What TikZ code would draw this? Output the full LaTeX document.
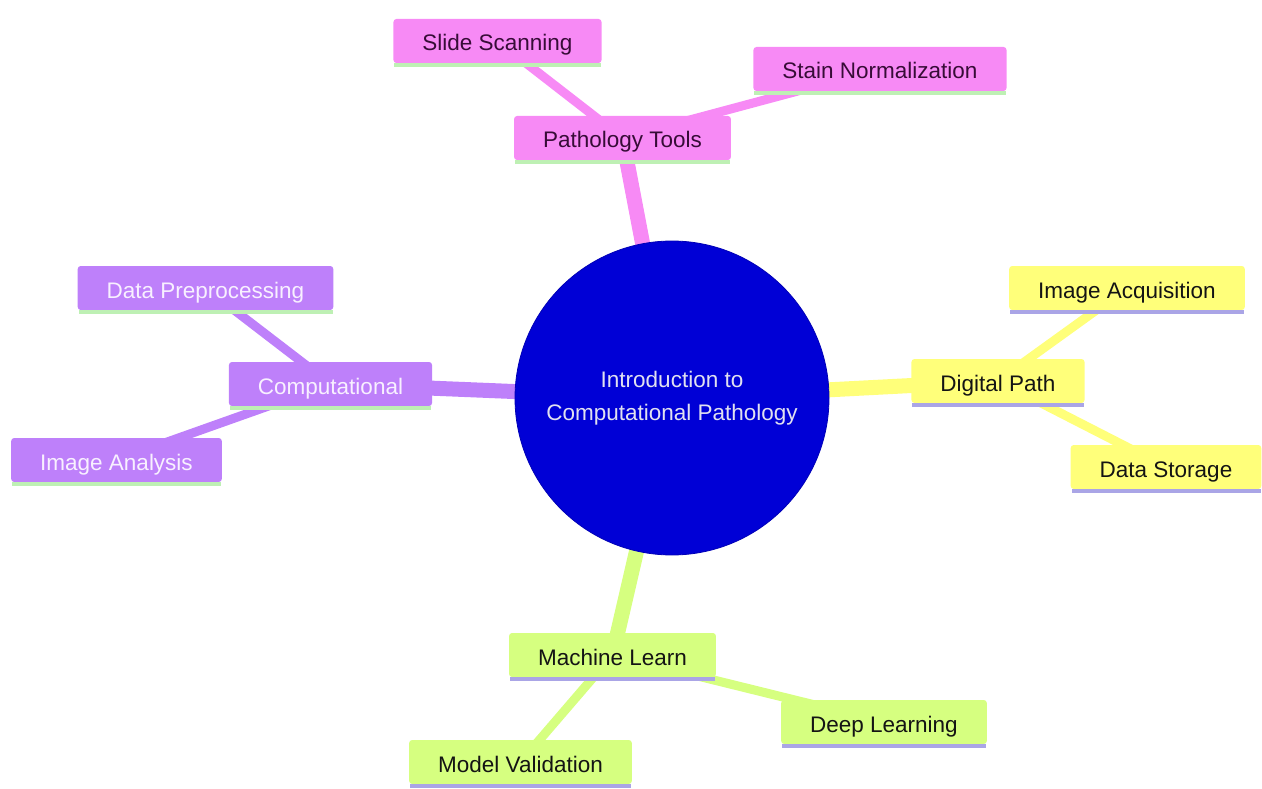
\documentclass[tikz,border=0pt]{standalone}
\usepackage{fontspec}
\setmainfont{Liberation Sans}
\usetikzlibrary{backgrounds}
\definecolor{pinkc}{RGB}{247,138,245}
\definecolor{purplec}{RGB}{190,128,250}
\definecolor{yellowc}{RGB}{255,255,122}
\definecolor{greenc}{RGB}{214,255,128}
\definecolor{bluec}{RGB}{0,0,214}
\definecolor{ulgreen}{RGB}{190,240,180}
\definecolor{ulpurple}{RGB}{170,165,230}
\definecolor{pinktext}{RGB}{55,12,55}
\definecolor{purpletext}{RGB}{248,240,255}
\definecolor{darktext}{RGB}{20,20,20}
\definecolor{circtext}{RGB}{225,225,240}
\tikzset{
  box/.style={rectangle, rounded corners=3pt, inner xsep=29pt, inner ysep=0pt,
    minimum height=44pt, text height=20pt, text depth=0pt,
    font=\fontsize{22.5}{27}\selectfont},
  pinkbox/.style={box, fill=pinkc, text=pinktext},
  purplebox/.style={box, fill=purplec, text=purpletext},
  yellowbox/.style={box, fill=yellowc, text=darktext},
  greenbox/.style={box, fill=greenc, text=darktext},
  rootnode/.style={circle, fill=bluec, draw=bluec!85!black, line width=0.8pt,
    minimum size=314pt, inner sep=0pt, align=center, text=circtext,
    font=\fontsize{22.5}{33}\selectfont},
  mainedge/.style={line width=15pt},
  leafedge/.style={line width=9pt},
  ulgreenbar/.style={fill=ulgreen},
  ulpurplebar/.style={fill=ulpurple},
}
\newcommand{\ulbar}[2]{\fill[#2] ([xshift=1pt]#1.south west) rectangle ([xshift=-1pt,yshift=-4pt]#1.south east);}
\begin{document}
\begin{tikzpicture}[x=1pt,y=-1pt]
\useasboundingbox (0,0) rectangle (1262,789);
% root
\node[rootnode] (root) at (672,398) {Introduction to\\Computational Pathology};
% pink
\node[pinkbox] (pt) at (622.5,138) {Pathology Tools};
\node[pinkbox] (ss) at (497.5,41) {Slide Scanning};
\node[pinkbox] (sn) at (880,69) {Stain Normalization};
% purple
\node[purplebox] (cp) at (330.5,384) {Computational};
\node[purplebox] (dp) at (205.5,288) {Data Preprocessing};
\node[purplebox] (ia) at (116.5,460) {Image Analysis};
% yellow
\node[yellowbox] (dg) at (998,381) {Digital Path};
\node[yellowbox] (iq) at (1127,288) {Image Acquisition};
\node[yellowbox] (ds) at (1166,467) {Data Storage};
% green
\node[greenbox] (ml) at (612.5,655) {Machine Learn};
\node[greenbox] (dl) at (884,722) {Deep Learning};
\node[greenbox] (mv) at (520.5,762) {Model Validation};
% underlines
\ulbar{pt}{ulgreenbar}
\ulbar{ss}{ulgreenbar}
\ulbar{sn}{ulgreenbar}
\ulbar{cp}{ulgreenbar}
\ulbar{dp}{ulgreenbar}
\ulbar{ia}{ulgreenbar}
\ulbar{dg}{ulpurplebar}
\ulbar{iq}{ulpurplebar}
\ulbar{ds}{ulpurplebar}
\ulbar{ml}{ulpurplebar}
\ulbar{dl}{ulpurplebar}
\ulbar{mv}{ulpurplebar}
% edges
\begin{pgfonlayer}{background}
\draw[mainedge, pinkc] (root.center) -- (pt.center);
\draw[leafedge, pinkc] (pt.center) -- (ss.center);
\draw[leafedge, pinkc] (pt.center) -- (sn.center);
\draw[mainedge, purplec] (root.center) -- (cp.center);
\draw[leafedge, purplec] (cp.center) -- (dp.center);
\draw[leafedge, purplec] (cp.center) -- (ia.center);
\draw[mainedge, yellowc] (root.center) -- (dg.center);
\draw[leafedge, yellowc] (dg.center) -- (iq.center);
\draw[leafedge, yellowc] (dg.center) -- (ds.center);
\draw[mainedge, greenc] (root.center) -- (ml.center);
\draw[leafedge, greenc] (ml.center) -- (dl.center);
\draw[leafedge, greenc] (ml.center) -- (mv.center);
\end{pgfonlayer}
\end{tikzpicture}
\end{document}
